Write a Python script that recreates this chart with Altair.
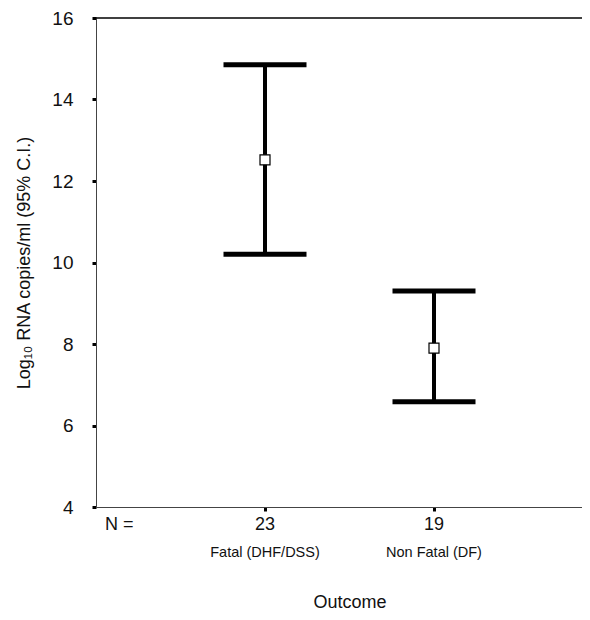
import altair as alt
import pandas as pd

groups = ["Fatal (DHF/DSS)", "Non Fatal (DF)"]
positions = [1, 2]
n_counts = [23, 19]
means = [12.52, 7.90]
lowers = [10.20, 6.58]
uppers = [14.85, 9.30]

df = pd.DataFrame({
    "group": groups,
    "pos": positions,
    "n": [str(v) for v in n_counts],
    "mean": means,
    "lower": lowers,
    "upper": uppers,
})

W = 486
H = 489
FONT = "Liberation Sans"

xscale = alt.Scale(domain=[0, W / 169.0], nice=False, zero=False)
yscale = alt.Scale(domain=[4, 16], nice=False, zero=False)

xaxis = alt.Axis(values=[1, 2], labels=False, title=None, grid=False,
                 tickSize=4, tickWidth=3, tickColor="black",
                 domainColor="#444", domainWidth=1)
yaxis = alt.Axis(values=[4, 6, 8, 10, 12, 14, 16], grid=False,
                 tickSize=4, tickWidth=3, tickColor="black",
                 domainColor="#444", domainWidth=1,
                 labelFont=FONT, labelFontSize=19, labelColor="#111",
                 labelPadding=19,
                 title="Log₁₀ RNA copies/ml (95% C.I.)",
                 titleFont=FONT, titleFontSize=18, titleFontWeight="normal",
                 titleColor="#111", titlePadding=18)

base = alt.Chart(df)

vline = base.mark_rule(color="black", strokeWidth=4).encode(
    x=alt.X("pos:Q", scale=xscale, axis=xaxis),
    y=alt.Y("lower:Q", scale=yscale, axis=yaxis),
    y2="upper:Q",
)

cap_hi = base.mark_tick(color="black", orient="horizontal", size=83, thickness=5,
                        opacity=1).encode(
    x=alt.X("pos:Q", scale=xscale), y=alt.Y("upper:Q", scale=yscale))
cap_lo = base.mark_tick(color="black", orient="horizontal", size=83, thickness=5,
                        opacity=1).encode(
    x=alt.X("pos:Q", scale=xscale), y=alt.Y("lower:Q", scale=yscale))

mean_pt = base.mark_point(shape="square", size=100, filled=True, fill="white",
                          stroke="black", strokeWidth=1.2, opacity=1).encode(
    x=alt.X("pos:Q", scale=xscale), y=alt.Y("mean:Q", scale=yscale))

top_rule = alt.Chart(pd.DataFrame({"v": [16]})).mark_rule(
    color="black", strokeWidth=1.5).encode(
    y=alt.Y("v:Q", scale=yscale), x=alt.value(0), x2=alt.value(W))

n_text = base.mark_text(font=FONT, fontSize=18, color="#111", baseline="middle").encode(
    x=alt.X("pos:Q", scale=xscale), y=alt.value(H + 18), text="n:N")

n_label = alt.Chart(pd.DataFrame({"t": ["N ="]})).mark_text(
    font=FONT, fontSize=18, color="#111", baseline="middle", align="left").encode(
    x=alt.value(9), y=alt.value(H + 18), text="t:N")

cat_text = base.mark_text(font=FONT, fontSize=14.5, color="#111", baseline="middle").encode(
    x=alt.X("pos:Q", scale=xscale), y=alt.value(H + 46), text="group:N")

outcome = alt.Chart(pd.DataFrame({"t": ["Outcome"]})).mark_text(
    font=FONT, fontSize=18, color="#111", baseline="middle").encode(
    x=alt.value(254), y=alt.value(H + 96), text="t:N")

chart = alt.layer(top_rule, vline, cap_hi, cap_lo, mean_pt, n_text, n_label,
                  cat_text, outcome).properties(
    width=W, height=H,
    autosize=alt.AutoSizeParams(type="none"),
    padding={"left": 88, "top": 10, "right": 0, "bottom": 105},
).configure_view(stroke=None)

chart.save("out.html", embed_options={"renderer": "svg", "actions": False})
